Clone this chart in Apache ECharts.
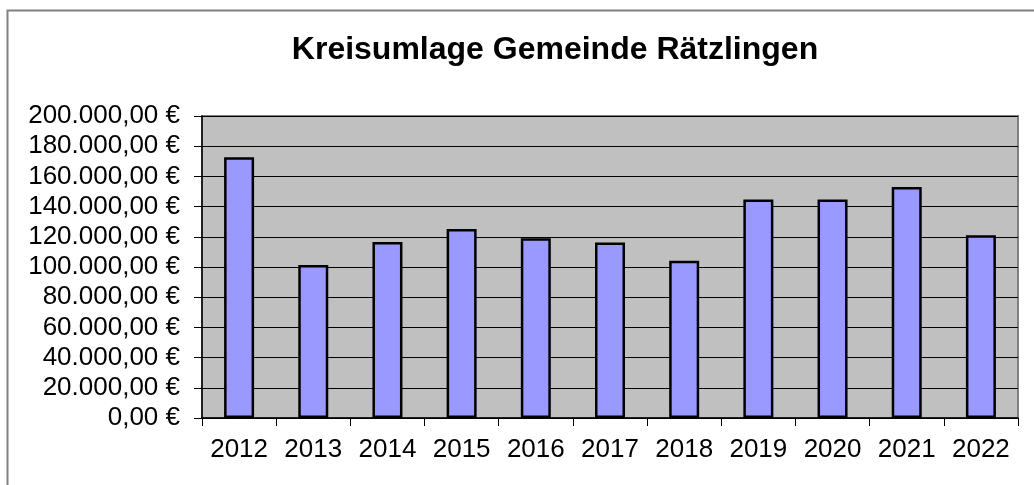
<!DOCTYPE html>
<html>
<head>
<meta charset="utf-8">
<script src="https://cdn.jsdelivr.net/npm/echarts@6/dist/echarts.min.js"></script>
<style>
html,body{margin:0;padding:0;background:#fff;}
#chart{width:1034px;height:485px;}
</style>
</head>
<body>
<div id="chart"></div>
<script>
const titleText = 'Kreisumlage Gemeinde Rätzlingen';
const years = ['2012','2013','2014','2015','2016','2017','2018','2019','2020','2021','2022'];
const kreisumlage = [172700, 101400, 116600, 125200, 119100, 116200, 104100, 144700, 144700, 153000, 121100];
const yMin = 0, yMax = 200000, yStep = 20000;

function fmtEuro(v){
  const parts = Math.round(v).toString().replace(/\B(?=(\d{3})+(?!\d))/g, '.');
  return parts + ',00 €';
}

const chart = echarts.init(document.getElementById('chart'), null, {renderer:'canvas'});
chart.setOption({
  animation:false,
  backgroundColor:'#ffffff',
  textStyle:{fontFamily:'Liberation Sans, Arial, sans-serif'},
  title:{
    text:titleText,
    left:550, top:29, textAlign:'center',
    textStyle:{fontFamily:'Liberation Sans, Arial, sans-serif', fontWeight:'bold', fontSize:32, color:'#000'}
  },
  graphic:[{
    type:'rect', left:5, top:8, z:-10, silent:true,
    shape:{width:1100, height:600},
    style:{fill:'none', stroke:'#808080', lineWidth:2}
  }],
  grid:{
    left:202, right:16, top:116, bottom:67,
    show:true, backgroundColor:'#c0c0c0', borderColor:'#808080', borderWidth:2
  },
  xAxis:{
    type:'category', data:years,
    axisLine:{show:true, lineStyle:{color:'#000', width:1.5}},
    axisTick:{show:true, inside:false, length:8, interval:0, alignWithLabel:false, lineStyle:{color:'#000'}},
    axisLabel:{color:'#000', fontSize:26, margin:19, interval:0, hideOverlap:false, fontFamily:'Liberation Sans, Arial, sans-serif'},
    splitLine:{show:false}
  },
  yAxis:{
    type:'value', min:yMin, max:yMax, interval:yStep,
    axisLine:{show:true, lineStyle:{color:'#000', width:1.5}},
    axisTick:{show:true, inside:false, length:8, lineStyle:{color:'#000'}},
    axisLabel:{color:'#000', fontSize:26, margin:22, formatter:fmtEuro, fontFamily:'Liberation Sans, Arial, sans-serif'},
    splitLine:{show:true, lineStyle:{color:'#000', width:1}}
  },
  series:[{
    type:'bar', data:kreisumlage, barWidth:30,
    itemStyle:{color:'#9999ff', borderColor:'#000', borderWidth:2.5}
  }]
});
</script>
</body>
</html>
